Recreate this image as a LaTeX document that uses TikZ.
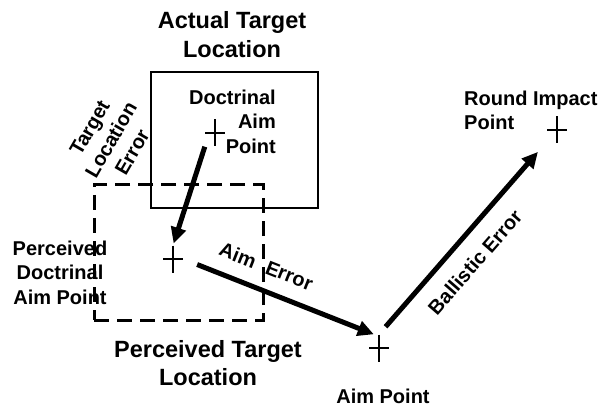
\documentclass[tikz,border=0pt]{standalone}
\usepackage{fontspec}
\setmainfont{Liberation Sans}
\usetikzlibrary{arrows.meta, positioning}
\tikzset{
    tgttitle/.style={font=\fontsize{23.5}{28.3}\selectfont\bfseries, align=center, inner sep=0pt},
    tgtlabel/.style={font=\fontsize{20}{24.5}\selectfont\bfseries, inner sep=0pt},
    aimmark/.style={minimum width=20pt, minimum height=27pt, inner sep=0pt,
        path picture={\draw[line width=1.5pt] (path picture bounding box.north) -- (path picture bounding box.south)
            (path picture bounding box.west) -- (path picture bounding box.east);}},
    actualbox/.style={draw, line width=1.3pt, minimum width=167pt, minimum height=136pt},
    perceivedbox/.style={draw, line width=3pt, dash pattern=on 15pt off 8pt, minimum width=169pt, minimum height=135pt},
    errarrow/.style={-{Triangle[length=16pt, width=15pt]}, line width=5pt}
}

\begin{document}
\begin{tikzpicture}[x=1pt, y=-1pt, node distance=27pt]
\useasboundingbox (0,0) rectangle (603,409);

\node[actualbox] (actual) at (234.5,140) {};
\node[perceivedbox] (perceived) at (178.5,252.5) {};
\node[tgttitle, anchor=north] (actualtitle) at (232,11.5) {Actual Target\\Location};
\node[tgttitle, anchor=north] (perceivedtitle) at (208,339.8) {Perceived Target\\Location};

\node[aimmark] (dap) at (215,133) {};
\node[aimmark] (pdap) at (173,259) {};
\node[aimmark] (ap) at (379,348) {};
\node[aimmark] (rip) at (557,130) {};

\node[tgtlabel, align=right, anchor=north east] (daplabel) at (276,89.7) {Doctrinal\\Aim\\Point};
\node[tgtlabel, align=center, anchor=north] (pdaplabel) at (60,240.7) {Perceived\\Doctrinal\\Aim Point};
\node[tgtlabel, below=of ap, xshift=4pt] (aplabel) {Aim Point};
\node[tgtlabel, align=left, anchor=north west] (riplabel) at (464,90.7) {Round Impact\\Point};
\node[tgtlabel, align=center, rotate=60] (tlelabel) at (111,140) {Target\\Location\\Error};

\draw[errarrow, shorten >=2pt] (dap.south west) -- (pdap.north);
\draw[errarrow, shorten <=15pt] (pdap.east) -- ([xshift=5pt]ap.north west)
    node[tgtlabel, pos=0.39, sloped, above=14pt] (aimerr) {Aim\hspace{12pt}Error};
\draw[errarrow, shorten <=10pt, shorten >=13.5pt] (ap.north) -- (rip)
    node[tgtlabel, pos=0.46, sloped, below=15pt] (balerr) {Ballistic Error};

\end{tikzpicture}
\end{document}
